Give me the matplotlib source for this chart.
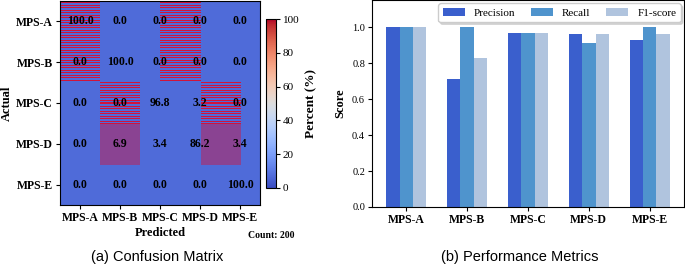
import numpy as np
import matplotlib
matplotlib.use("Agg")
import matplotlib.pyplot as plt
from matplotlib.cm import ScalarMappable
from matplotlib.colors import Normalize, to_rgb

classes = ["MPS-A", "MPS-B", "MPS-C", "MPS-D", "MPS-E"]
conf = np.array([
    [100.0, 0.0, 0.0, 0.0, 0.0],
    [0.0, 100.0, 0.0, 0.0, 0.0],
    [0.0, 0.0, 96.8, 3.2, 0.0],
    [0.0, 6.9, 3.4, 86.2, 3.4],
    [0.0, 0.0, 0.0, 0.0, 100.0],
])
# how each half-cell looks in the original render: 0 blue, 1 striped, 2 purple
shade = np.array([
    [1, 1, 0, 0, 0, 1, 1, 0, 0, 0],
    [1, 1, 0, 0, 0, 1, 1, 0, 0, 0],
    [0, 0, 1, 1, 0, 0, 0, 1, 1, 0],
    [0, 0, 2, 2, 0, 0, 0, 2, 2, 0],
    [0, 0, 0, 0, 0, 0, 0, 0, 0, 0],
])
count = 200

precision = [1.00, 0.71, 0.97, 0.96, 0.93]
recall = [1.00, 1.00, 0.97, 0.91, 1.00]
f1 = [1.00, 0.83, 0.97, 0.96, 0.96]

plt.rcParams["font.family"] = "Liberation Serif"
plt.rcParams["font.size"] = 8

fig = plt.figure(figsize=(6.85, 2.65), dpi=100)

# ---- confusion matrix ----
ax = fig.add_axes([0.0876, 0.2264, 0.292, 0.77])
blue = np.array(to_rgb("#4f6bd9"))
red = np.array(to_rgb("#d0143c"))
purple = np.array(to_rgb("#8a4392"))
# texture built at screen-pixel height so the stripes stay even
h_px = int(round(0.77 * 265))
nr, nc = shade.shape
img = np.zeros((h_px, nc, 3))
for y in range(h_px):
    r = min(int(y * nr / h_px), nr - 1)
    for c in range(nc):
        if shade[r, c] == 1:
            col = red if y % 5 in (0, 2) else blue
        elif shade[r, c] == 2:
            col = purple
        else:
            col = blue
        img[y, c] = col
n = len(classes)
ax.imshow(img, extent=(-0.5, n - 0.5, n - 0.5, -0.5), aspect="auto",
          interpolation="nearest")
for i in range(n):
    for j in range(n):
        ax.text(j, i, f"{conf[i, j]:.1f}", ha="center", va="center",
                fontsize=8.5, fontweight="bold", color="black")
ax.set_xlim(-0.5, n - 0.5)
ax.set_ylim(n - 0.5, -0.5)
ax.set_xticks(range(n))
ax.set_xticklabels(classes, fontsize=8.5, fontweight="bold")
ax.set_yticks(range(n))
ax.set_yticklabels(classes, fontsize=8.5, fontweight="bold")
ax.set_xlabel("Predicted", fontsize=9, fontweight="bold", labelpad=2)
ax.set_ylabel("Actual", fontsize=9, fontweight="bold", labelpad=2)
ax.tick_params(length=3, pad=2)

cax = fig.add_axes([0.3883, 0.2906, 0.0146, 0.6377])
cb = fig.colorbar(ScalarMappable(norm=Normalize(0, 100), cmap="coolwarm"), cax=cax)
cb.set_ticks([0, 20, 40, 60, 80, 100])
cb.ax.tick_params(labelsize=8, length=3, pad=2)
cb.set_label("Percent (%)", fontsize=9.5, fontweight="bold", labelpad=4)

fig.text(295 / 685, 1 - 235 / 265, f"Count: {count}", ha="right", va="center",
         fontsize=7, fontweight="bold")

# ---- performance metrics ----
bx = fig.add_axes([0.543, 0.2189, 0.4555, 0.7805])
x = np.arange(len(classes))
w = 0.22
bx.bar(x - w, precision, w, color="#3a5fcd", label="Precision")
bx.bar(x, recall, w, color="#4f94cd", label="Recall")
bx.bar(x + w, f1, w, color="#b0c4de", label="F1-score")
bx.set_ylim(0, 1.15)
bx.set_yticks([0.0, 0.2, 0.4, 0.6, 0.8, 1.0])
bx.set_xticks(x)
bx.set_xticklabels(classes, fontsize=8.5, fontweight="bold")
bx.tick_params(axis="y", labelsize=7.5, length=3, pad=2)
bx.tick_params(axis="x", length=3, pad=2)
bx.set_ylabel("Score", fontsize=9, fontweight="bold", labelpad=4)
bx.legend(loc="upper right", ncol=3, fontsize=8, frameon=True,
          borderaxespad=0.3, handlelength=2.0, columnspacing=1.4,
          shadow={"ox": 1.5, "oy": -1.5, "color": "0.75", "alpha": 0.6},
          framealpha=1.0)

fig.text(157 / 685, 1 - 257 / 265, "(a) Confusion Matrix", ha="center",
         va="center", fontsize=10.5, family="Liberation Sans")
fig.text(520 / 685, 1 - 257 / 265, "(b) Performance Metrics", ha="center",
         va="center", fontsize=10.5, family="Liberation Sans")

fig.savefig("out.png", dpi=100)
